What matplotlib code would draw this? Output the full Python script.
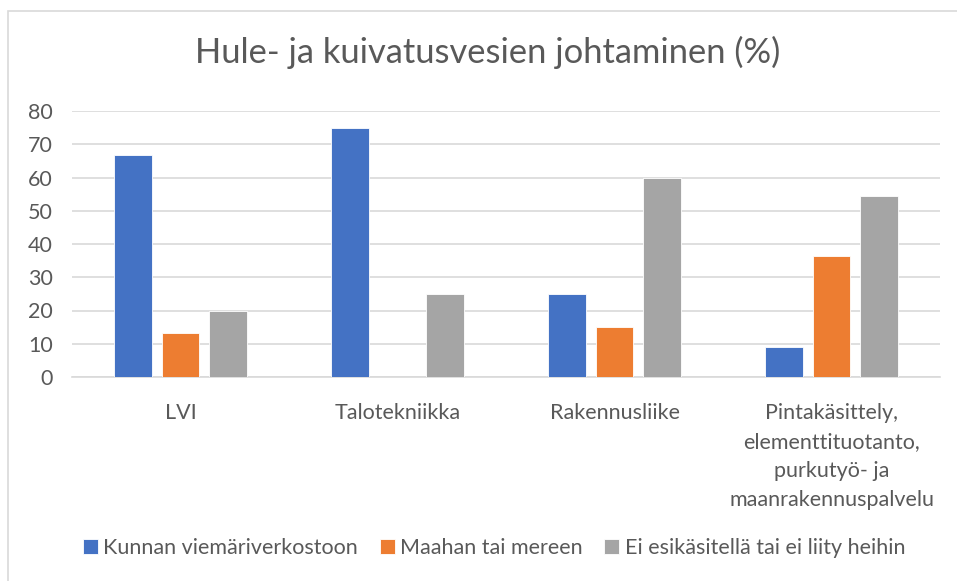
import matplotlib
matplotlib.use("Agg")
import matplotlib.pyplot as plt
import numpy as np
from matplotlib.patches import Rectangle

categories = ["LVI", "Talotekniikka", "Rakennusliike",
              "Pintakäsittely,\nelementtituotanto,\npurkutyö- ja\nmaanrakennuspalvelu"]
series_names = ["Kunnan viemäriverkostoon", "Maahan tai mereen",
                "Ei esikäsitellä tai ei liity heihin"]
kunnan = [66.7, 75.0, 25.0, 9.1]
maahan = [13.3, 0.0, 15.0, 36.4]
ei = [20.0, 25.0, 60.0, 54.5]
colors = ["#4472C4", "#ED7D31", "#A5A5A5"]
yticks = [0, 10, 20, 30, 40, 50, 60, 70, 80]

plt.rcParams['font.family'] = ['Lato', 'DejaVu Sans']
W, H = 957, 581
fig = plt.figure(figsize=(W/100, H/100), dpi=100)
fig.patches.append(Rectangle((8/W, -0.2), 1.2, 1.2 - 11/H, transform=fig.transFigure,
                             fill=False, edgecolor="#D9D9D9", linewidth=1.2))
ax = fig.add_axes([72/W, 1 - 377/H, (940-72)/W, (377-111)/H])
x = np.arange(len(categories))
bw = 0.175
off = 0.221
for i, (vals, c, n) in enumerate(zip([kunnan, maahan, ei], colors, series_names)):
    ax.bar(x + (i-1)*off, vals, width=bw, color=c, label=n, edgecolor="white",
           linewidth=0.6, zorder=3)
ax.set_xlim(-0.5, len(categories)-0.5)
ax.set_ylim(0, 80)
ax.set_yticks(yticks)
ax.set_xticks(x)
ax.set_xticklabels(categories, fontsize=15.5, color="#595959", linespacing=1.55)
ax.tick_params(axis='y', labelsize=15.5, labelcolor="#595959", length=0, pad=14)
ax.tick_params(axis='x', length=0, pad=19)
ax.yaxis.grid(True, color="#D9D9D9", linewidth=1.2, zorder=0)
for s in ["top", "right", "left"]:
    ax.spines[s].set_visible(False)
ax.spines["bottom"].set_color("#D9D9D9")
ax.spines["bottom"].set_linewidth(1.2)
fig.text(488/W, 1 - 52/H, "Hule- ja kuivatusvesien johtaminen (%)", ha="center",
         va="center", fontsize=24.8, color="#595959")
leg = fig.legend(loc="center", bbox_to_anchor=(494/W, 1 - 548/H), ncol=3,
                 frameon=False, fontsize=15.5, handlelength=0.7, handleheight=0.7,
                 handletextpad=0.25, columnspacing=1.0, labelcolor="#595959")
fig.savefig("out.png", dpi=100)
